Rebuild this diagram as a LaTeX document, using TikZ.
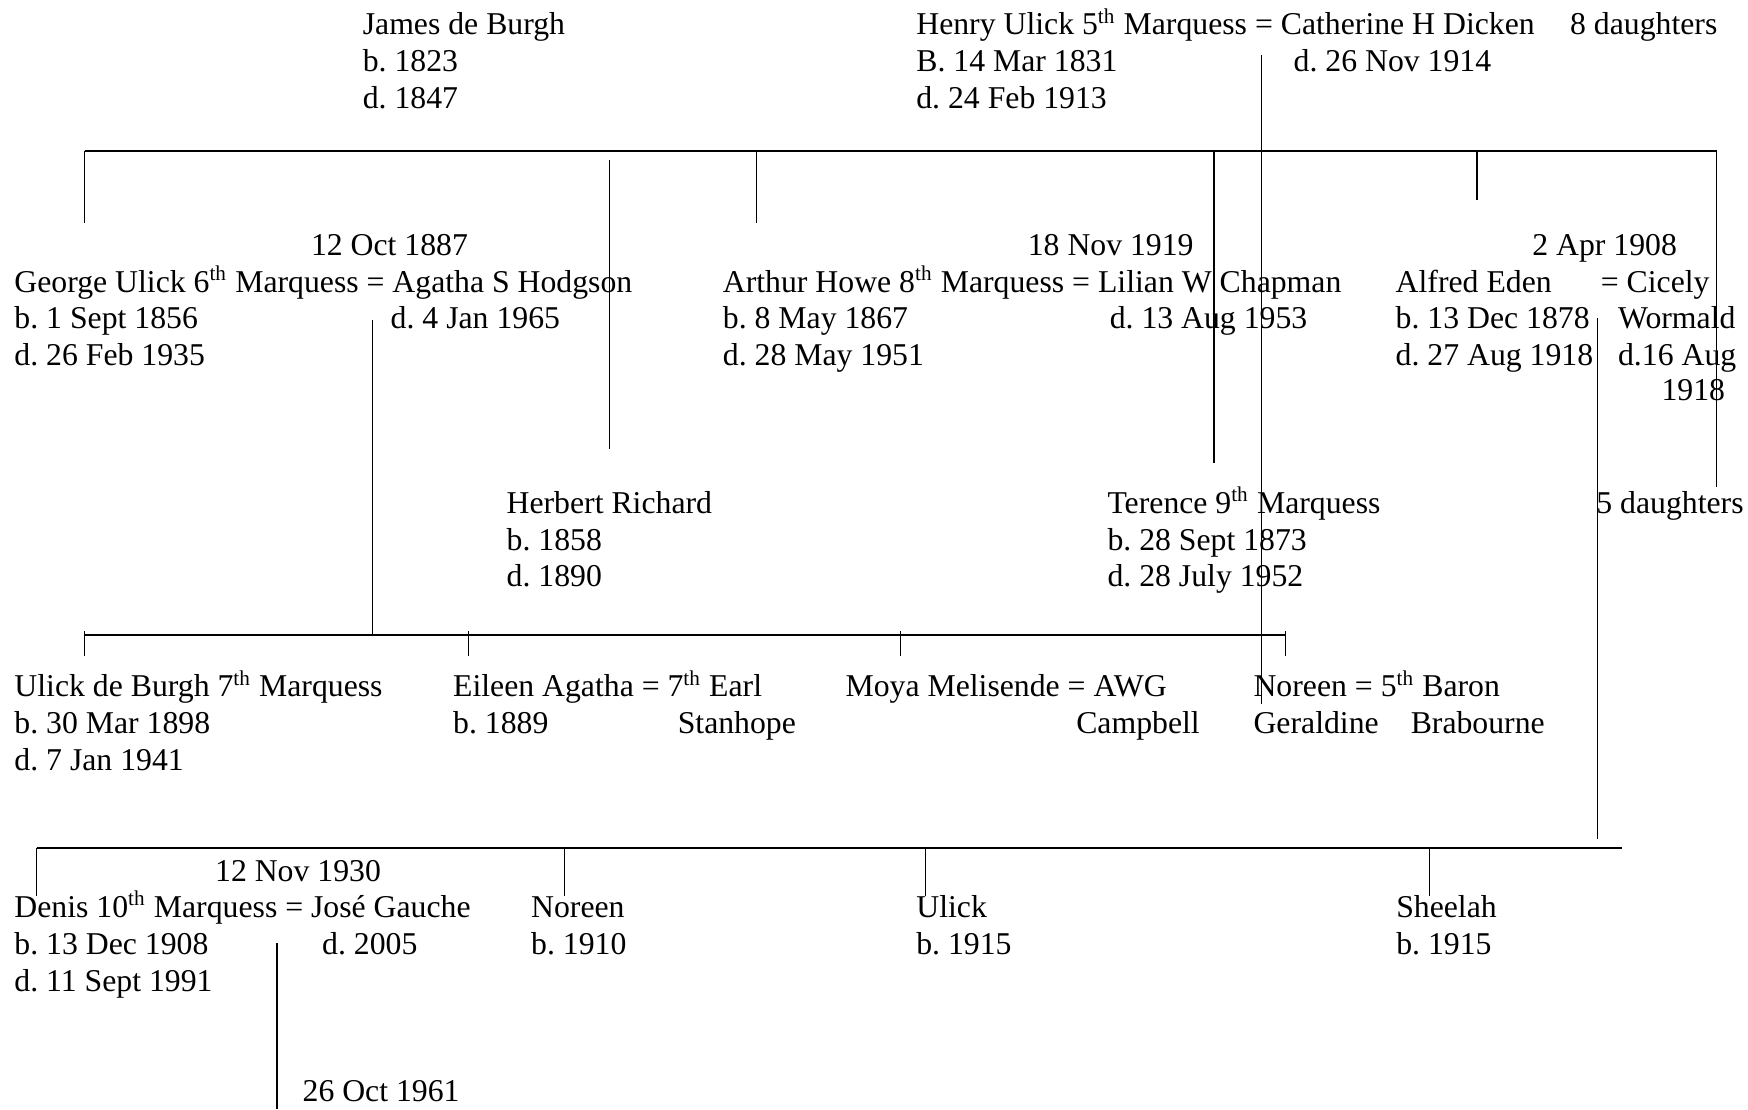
\documentclass[tikz,border=0pt]{standalone}
\usepackage{fontspec}
\setmainfont{Liberation Serif}
\newcommand{\stack}[1]{\begin{tabular}[t]{@{}l@{}}#1\end{tabular}}

\begin{document}
\frenchspacing
\begin{tikzpicture}[x=0.4214pt, y=-0.4214pt,
    txt/.style={anchor=base west, inner sep=0pt, font=\fontsize{12}{13.9}\selectfont},
    line/.style={line width=0.5pt},
    bar/.style={line width=0.8pt}]
    \useasboundingbox (0,0) rectangle (1568,995);

    \node [txt] (james) at (325,31) {\stack{James de Burgh\\ b. 1823\\ d. 1847}};
    \node [txt] (henry) at (821.5,31) {\stack{Henry Ulick 5\textsuperscript{th} Marquess = Catherine H Dicken\\ B. 14 Mar 1831\\ d. 24 Feb 1913}};
    \node [txt] (catherine) at (1160,64) {d. 26 Nov 1914};
    \node [txt] (daughters8) at (1408,31) {8 daughters};

    \node [txt] (wed1887) at (278.5,229) {12 Oct 1887};
    \node [txt] (george) at (12.5,262) {\stack{George Ulick 6\textsuperscript{th} Marquess = Agatha S Hodgson\\ b. 1 Sept 1856\\ d. 26 Feb 1935}};
    \node [txt] (agatha) at (350,295) {d. 4 Jan 1965};
    \node [txt] (wed1919) at (921.5,229) {18 Nov 1919};
    \node [txt] (arthur) at (648,262) {\stack{Arthur Howe 8\textsuperscript{th} Marquess = Lilian W Chapman\\ b. 8 May 1867\\ d. 28 May 1951}};
    \node [txt] (lilian) at (995,295) {d. 13 Aug 1953};
    \node [txt] (wed1908) at (1374,229) {2 Apr 1908};
    \node [txt] (alfred) at (1251.5,262) {\stack{Alfred Eden\\ b. 13 Dec 1878\\ d. 27 Aug 1918}};
    \node [txt] (cicely) at (1435.5,262) {= Cicely};
    \node [txt] (wormald) at (1451,295) {\stack{Wormald\\ d.16 Aug}};
    \node [txt] (cicelyd) at (1490,359) {1918};

    \node [txt] (herbert) at (454,460.5) {\stack{Herbert Richard\\ b. 1858\\ d. 1890}};
    \node [txt] (terence) at (993,460.5) {\stack{Terence 9\textsuperscript{th} Marquess\\ b. 28 Sept 1873\\ d. 28 July 1952}};
    \node [txt] (daughters5) at (1431.5,460.5) {5 daughters};

    \node [txt] (ulick7) at (12.5,625) {\stack{Ulick de Burgh 7\textsuperscript{th} Marquess\\ b. 30 Mar 1898\\ d. 7 Jan 1941}};
    \node [txt] (eileen) at (406,625) {\stack{Eileen Agatha = 7\textsuperscript{th} Earl\\ b. 1889}};
    \node [txt] (stanhope) at (607.5,658) {Stanhope};
    \node [txt] (moya) at (758,625) {Moya Melisende = AWG};
    \node [txt] (campbell) at (965,658) {Campbell};
    \node [txt] (geraldine) at (1124,625) {\stack{Noreen = 5\textsuperscript{th} Baron\\ Geraldine}};
    \node [txt] (brabourne) at (1265,658) {Brabourne};

    \node [txt] (wed1930) at (192.5,791) {12 Nov 1930};
    \node [txt] (denis) at (12.5,823) {\stack{Denis 10\textsuperscript{th} Marquess = José Gauche\\ b. 13 Dec 1908\\ d. 11 Sept 1991}};
    \node [txt] (jose) at (288.5,856) {d. 2005};
    \node [txt] (noreen) at (476,823) {\stack{Noreen\\ b. 1910}};
    \node [txt] (ulick) at (821.5,823) {\stack{Ulick\\ b. 1915}};
    \node [txt] (sheelah) at (1252,823) {\stack{Sheelah\\ b. 1915}};
    \node [txt] (wed1961) at (271,988) {26 Oct 1961};

    \coordinate (top-l) at (76,135.5);
    \coordinate (top-r) at (1540,135.5);
    \coordinate (george-up) at (76,200);
    \coordinate (arthur-bar) at (678.5,135.5);
    \coordinate (arthur-up) at (678.5,200);
    \coordinate (alfred-bar) at (1325,135.5);
    \coordinate (alfred-up) at (1325,179);
    \coordinate (daughters5-up) at (1540,437);
    \coordinate (terence-bar) at (1089,135.5);
    \coordinate (terence-up) at (1089,415.5);
    \coordinate (herbert-top) at (546.6,143.5);
    \coordinate (herbert-up) at (546.6,403);
    \coordinate (henry-eq) at (1131.5,49);
    \coordinate (henry-end) at (1131.5,631.5);
    \coordinate (george-eq) at (334,287);
    \coordinate (george-kids) at (334,569.6);
    \coordinate (kids6-l) at (76,569.6);
    \coordinate (kids6-r) at (1153,569.6);
    \coordinate (ulick7-t) at (76,566);
    \coordinate (ulick7-up) at (76,588);
    \coordinate (eileen-t) at (420.5,566);
    \coordinate (eileen-up) at (420.5,588);
    \coordinate (moya-t) at (808,566);
    \coordinate (moya-up) at (808,588);
    \coordinate (geraldine-t) at (1153,566);
    \coordinate (geraldine-up) at (1153,588);
    \coordinate (alfred-eq) at (1433,285.5);
    \coordinate (alfred-kids) at (1433,752.6);
    \coordinate (low-l) at (33,760.4);
    \coordinate (low-r) at (1455,760.4);
    \coordinate (denis-up) at (33,803.7);
    \coordinate (noreen-t) at (506.5,760.4);
    \coordinate (noreen-up) at (506.5,803.7);
    \coordinate (ulick-t) at (830,760.4);
    \coordinate (ulick-up) at (830,803.7);
    \coordinate (sheelah-t) at (1282,760.4);
    \coordinate (sheelah-up) at (1282,803.7);
    \coordinate (denis-eq) at (248.5,846);
    \coordinate (denis-kids) at (248.5,995);

    \draw [bar] (top-l) -- (top-r);
    \draw [line] (top-l) -- (george-up);
    \draw [line] (arthur-bar) -- (arthur-up);
    \draw [line] (alfred-bar) -- (alfred-up);
    \draw [line] (top-r) -- (daughters5-up);
    \draw [line] (terence-bar) -- (terence-up);
    \draw [line] (herbert-top) -- (herbert-up);
    \draw [line] (henry-eq) -- (henry-end);

    \draw [line] (george-eq) -- (george-kids);
    \draw [bar] (kids6-l) -- (kids6-r);
    \draw [line] (ulick7-t) -- (ulick7-up);
    \draw [line] (eileen-t) -- (eileen-up);
    \draw [line] (moya-t) -- (moya-up);
    \draw [line] (geraldine-t) -- (geraldine-up);

    \draw [line] (alfred-eq) -- (alfred-kids);
    \draw [bar] (low-l) -- (low-r);
    \draw [line] (low-l) -- (denis-up);
    \draw [line] (noreen-t) -- (noreen-up);
    \draw [line] (ulick-t) -- (ulick-up);
    \draw [line] (sheelah-t) -- (sheelah-up);
    \draw [line] (denis-eq) -- (denis-kids);
\end{tikzpicture}
\end{document}
